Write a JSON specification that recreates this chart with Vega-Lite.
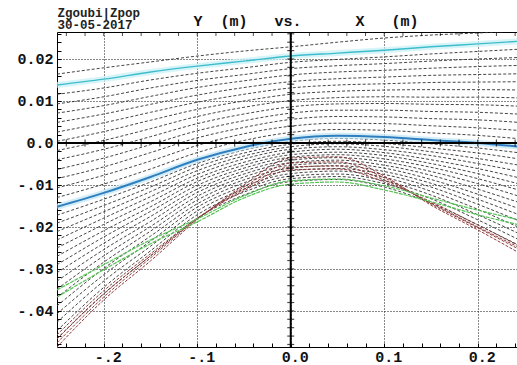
{
"$schema":"https://vega.github.io/schema/vega-lite/v6.json",
"width":460,"height":315,"autosize":"none",
"padding":{"left":57,"top":32,"right":0,"bottom":18},
"background":"white",
"config":{"view":{"stroke":"#000","strokeWidth":1}},
"datasets":{
"traj":[
{"g":"k","k":"a","x":-0.25,"y":0.0164},{"g":"k","k":"a","x":-0.2,"y":0.0179},{"g":"k","k":"a","x":-0.15,"y":0.0193},{"g":"k","k":"a","x":-0.1,"y":0.0207},{"g":"k","k":"a","x":-0.05,"y":0.0219},{"g":"k","k":"a","x":0,"y":0.0229},{"g":"k","k":"a","x":0.05,"y":0.024},{"g":"k","k":"a","x":0.1,"y":0.025},{"g":"k","k":"a","x":0.15,"y":0.0257},{"g":"k","k":"a","x":0.2,"y":0.0262},{"g":"k","k":"a","x":0.25,"y":0.0267},
{"g":"k","k":"u1","x":-0.25,"y":0.0116},{"g":"k","k":"u1","x":-0.2,"y":0.0131},{"g":"k","k":"u1","x":-0.15,"y":0.015},{"g":"k","k":"u1","x":-0.1,"y":0.0166},{"g":"k","k":"u1","x":-0.05,"y":0.0179},{"g":"k","k":"u1","x":0,"y":0.0192},{"g":"k","k":"u1","x":0.05,"y":0.0199},{"g":"k","k":"u1","x":0.1,"y":0.0205},{"g":"k","k":"u1","x":0.15,"y":0.0212},{"g":"k","k":"u1","x":0.2,"y":0.0218},{"g":"k","k":"u1","x":0.25,"y":0.0224},
{"g":"k","k":"u2","x":-0.25,"y":0.0093},{"g":"k","k":"u2","x":-0.2,"y":0.011},{"g":"k","k":"u2","x":-0.15,"y":0.0131},{"g":"k","k":"u2","x":-0.1,"y":0.0149},{"g":"k","k":"u2","x":-0.05,"y":0.0163},{"g":"k","k":"u2","x":0,"y":0.0177},{"g":"k","k":"u2","x":0.05,"y":0.0184},{"g":"k","k":"u2","x":0.1,"y":0.0189},{"g":"k","k":"u2","x":0.15,"y":0.0195},{"g":"k","k":"u2","x":0.2,"y":0.02},{"g":"k","k":"u2","x":0.25,"y":0.0204},
{"g":"k","k":"u3","x":-0.25,"y":0.0071},{"g":"k","k":"u3","x":-0.2,"y":0.0089},{"g":"k","k":"u3","x":-0.15,"y":0.0111},{"g":"k","k":"u3","x":-0.1,"y":0.0132},{"g":"k","k":"u3","x":-0.05,"y":0.0148},{"g":"k","k":"u3","x":0,"y":0.0162},{"g":"k","k":"u3","x":0.05,"y":0.0169},{"g":"k","k":"u3","x":0.1,"y":0.0173},{"g":"k","k":"u3","x":0.15,"y":0.0178},{"g":"k","k":"u3","x":0.2,"y":0.0182},{"g":"k","k":"u3","x":0.25,"y":0.0185},
{"g":"k","k":"u4","x":-0.25,"y":0.0049},{"g":"k","k":"u4","x":-0.2,"y":0.0069},{"g":"k","k":"u4","x":-0.15,"y":0.0092},{"g":"k","k":"u4","x":-0.1,"y":0.0114},{"g":"k","k":"u4","x":-0.05,"y":0.0132},{"g":"k","k":"u4","x":0,"y":0.0146},{"g":"k","k":"u4","x":0.05,"y":0.0153},{"g":"k","k":"u4","x":0.1,"y":0.0157},{"g":"k","k":"u4","x":0.15,"y":0.0161},{"g":"k","k":"u4","x":0.2,"y":0.0163},{"g":"k","k":"u4","x":0.25,"y":0.0165},
{"g":"k","k":"u5","x":-0.25,"y":0.0026},{"g":"k","k":"u5","x":-0.2,"y":0.0048},{"g":"k","k":"u5","x":-0.15,"y":0.0073},{"g":"k","k":"u5","x":-0.1,"y":0.0097},{"g":"k","k":"u5","x":-0.05,"y":0.0116},{"g":"k","k":"u5","x":0,"y":0.0131},{"g":"k","k":"u5","x":0.05,"y":0.0138},{"g":"k","k":"u5","x":0.1,"y":0.0141},{"g":"k","k":"u5","x":0.15,"y":0.0144},{"g":"k","k":"u5","x":0.2,"y":0.0145},{"g":"k","k":"u5","x":0.25,"y":0.0146},
{"g":"k","k":"u6","x":-0.25,"y":0.0004},{"g":"k","k":"u6","x":-0.2,"y":0.0027},{"g":"k","k":"u6","x":-0.15,"y":0.0054},{"g":"k","k":"u6","x":-0.1,"y":0.008},{"g":"k","k":"u6","x":-0.05,"y":0.01},{"g":"k","k":"u6","x":0,"y":0.0116},{"g":"k","k":"u6","x":0.05,"y":0.0123},{"g":"k","k":"u6","x":0.1,"y":0.0126},{"g":"k","k":"u6","x":0.15,"y":0.0127},{"g":"k","k":"u6","x":0.2,"y":0.0127},{"g":"k","k":"u6","x":0.25,"y":0.0126},
{"g":"k","k":"u7","x":-0.25,"y":-0.0018},{"g":"k","k":"u7","x":-0.2,"y":0.0006},{"g":"k","k":"u7","x":-0.15,"y":0.0034},{"g":"k","k":"u7","x":-0.1,"y":0.0063},{"g":"k","k":"u7","x":-0.05,"y":0.0085},{"g":"k","k":"u7","x":0,"y":0.0101},{"g":"k","k":"u7","x":0.05,"y":0.0108},{"g":"k","k":"u7","x":0.1,"y":0.011},{"g":"k","k":"u7","x":0.15,"y":0.0109},{"g":"k","k":"u7","x":0.2,"y":0.0109},{"g":"k","k":"u7","x":0.25,"y":0.0107},
{"g":"k","k":"u8","x":-0.25,"y":-0.004},{"g":"k","k":"u8","x":-0.2,"y":-0.0015},{"g":"k","k":"u8","x":-0.15,"y":0.0015},{"g":"k","k":"u8","x":-0.1,"y":0.0046},{"g":"k","k":"u8","x":-0.05,"y":0.0069},{"g":"k","k":"u8","x":0,"y":0.0086},{"g":"k","k":"u8","x":0.05,"y":0.0093},{"g":"k","k":"u8","x":0.1,"y":0.0094},{"g":"k","k":"u8","x":0.15,"y":0.0092},{"g":"k","k":"u8","x":0.2,"y":0.0091},{"g":"k","k":"u8","x":0.25,"y":0.0087},
{"g":"k","k":"u9","x":-0.25,"y":-0.0063},{"g":"k","k":"u9","x":-0.2,"y":-0.0036},{"g":"k","k":"u9","x":-0.15,"y":-0.0004},{"g":"k","k":"u9","x":-0.1,"y":0.0029},{"g":"k","k":"u9","x":-0.05,"y":0.0053},{"g":"k","k":"u9","x":0,"y":0.0071},{"g":"k","k":"u9","x":0.05,"y":0.0078},{"g":"k","k":"u9","x":0.1,"y":0.0078},{"g":"k","k":"u9","x":0.15,"y":0.0075},{"g":"k","k":"u9","x":0.2,"y":0.0073},{"g":"k","k":"u9","x":0.25,"y":0.0068},
{"g":"k","k":"u10","x":-0.25,"y":-0.0085},{"g":"k","k":"u10","x":-0.2,"y":-0.0057},{"g":"k","k":"u10","x":-0.15,"y":-0.0023},{"g":"k","k":"u10","x":-0.1,"y":0.0012},{"g":"k","k":"u10","x":-0.05,"y":0.0037},{"g":"k","k":"u10","x":0,"y":0.0056},{"g":"k","k":"u10","x":0.05,"y":0.0063},{"g":"k","k":"u10","x":0.1,"y":0.0062},{"g":"k","k":"u10","x":0.15,"y":0.0058},{"g":"k","k":"u10","x":0.2,"y":0.0055},{"g":"k","k":"u10","x":0.25,"y":0.0048},
{"g":"k","k":"u11","x":-0.25,"y":-0.0107},{"g":"k","k":"u11","x":-0.2,"y":-0.0077},{"g":"k","k":"u11","x":-0.15,"y":-0.0043},{"g":"k","k":"u11","x":-0.1,"y":-0.0006},{"g":"k","k":"u11","x":-0.05,"y":0.0022},{"g":"k","k":"u11","x":0,"y":0.004},{"g":"k","k":"u11","x":0.05,"y":0.0047},{"g":"k","k":"u11","x":0.1,"y":0.0046},{"g":"k","k":"u11","x":0.15,"y":0.0041},{"g":"k","k":"u11","x":0.2,"y":0.0036},{"g":"k","k":"u11","x":0.25,"y":0.0029},
{"g":"k","k":"u12","x":-0.25,"y":-0.013},{"g":"k","k":"u12","x":-0.2,"y":-0.0098},{"g":"k","k":"u12","x":-0.15,"y":-0.0062},{"g":"k","k":"u12","x":-0.1,"y":-0.0023},{"g":"k","k":"u12","x":-0.05,"y":0.0006},{"g":"k","k":"u12","x":0,"y":0.0025},{"g":"k","k":"u12","x":0.05,"y":0.0032},{"g":"k","k":"u12","x":0.1,"y":0.003},{"g":"k","k":"u12","x":0.15,"y":0.0024},{"g":"k","k":"u12","x":0.2,"y":0.0018},{"g":"k","k":"u12","x":0.25,"y":0.0009},
{"g":"k","k":"l1","x":-0.25,"y":-0.0172},{"g":"k","k":"l1","x":-0.2,"y":-0.0134},{"g":"k","k":"l1","x":-0.15,"y":-0.0093},{"g":"k","k":"l1","x":-0.1,"y":-0.0049},{"g":"k","k":"l1","x":-0.05,"y":-0.0017},{"g":"k","k":"l1","x":0,"y":0.0004},{"g":"k","k":"l1","x":0.05,"y":0.0011},{"g":"k","k":"l1","x":0.1,"y":0.0007},{"g":"k","k":"l1","x":0.15,"y":-0.0002},{"g":"k","k":"l1","x":0.2,"y":-0.0012},{"g":"k","k":"l1","x":0.25,"y":-0.0025},
{"g":"k","k":"l2","x":-0.25,"y":-0.0191},{"g":"k","k":"l2","x":-0.2,"y":-0.0149},{"g":"k","k":"l2","x":-0.15,"y":-0.0105},{"g":"k","k":"l2","x":-0.1,"y":-0.0057},{"g":"k","k":"l2","x":-0.05,"y":-0.0024},{"g":"k","k":"l2","x":0,"y":-0.0003},{"g":"k","k":"l2","x":0.05,"y":0.0004},{"g":"k","k":"l2","x":0.1,"y":-0.0001},{"g":"k","k":"l2","x":0.15,"y":-0.0012},{"g":"k","k":"l2","x":0.2,"y":-0.0024},{"g":"k","k":"l2","x":0.25,"y":-0.004},
{"g":"k","k":"l3","x":-0.25,"y":-0.0211},{"g":"k","k":"l3","x":-0.2,"y":-0.0164},{"g":"k","k":"l3","x":-0.15,"y":-0.0116},{"g":"k","k":"l3","x":-0.1,"y":-0.0066},{"g":"k","k":"l3","x":-0.05,"y":-0.0031},{"g":"k","k":"l3","x":0,"y":-0.0009},{"g":"k","k":"l3","x":0.05,"y":-0.0002},{"g":"k","k":"l3","x":0.1,"y":-0.0008},{"g":"k","k":"l3","x":0.15,"y":-0.0021},{"g":"k","k":"l3","x":0.2,"y":-0.0037},{"g":"k","k":"l3","x":0.25,"y":-0.0055},
{"g":"k","k":"l4","x":-0.25,"y":-0.0231},{"g":"k","k":"l4","x":-0.2,"y":-0.0179},{"g":"k","k":"l4","x":-0.15,"y":-0.0128},{"g":"k","k":"l4","x":-0.1,"y":-0.0075},{"g":"k","k":"l4","x":-0.05,"y":-0.0038},{"g":"k","k":"l4","x":0,"y":-0.0015},{"g":"k","k":"l4","x":0.05,"y":-0.0009},{"g":"k","k":"l4","x":0.1,"y":-0.0016},{"g":"k","k":"l4","x":0.15,"y":-0.003},{"g":"k","k":"l4","x":0.2,"y":-0.0049},{"g":"k","k":"l4","x":0.25,"y":-0.007},
{"g":"k","k":"l5","x":-0.25,"y":-0.025},{"g":"k","k":"l5","x":-0.2,"y":-0.0194},{"g":"k","k":"l5","x":-0.15,"y":-0.014},{"g":"k","k":"l5","x":-0.1,"y":-0.0084},{"g":"k","k":"l5","x":-0.05,"y":-0.0046},{"g":"k","k":"l5","x":0,"y":-0.0022},{"g":"k","k":"l5","x":0.05,"y":-0.0015},{"g":"k","k":"l5","x":0.1,"y":-0.0023},{"g":"k","k":"l5","x":0.15,"y":-0.004},{"g":"k","k":"l5","x":0.2,"y":-0.0061},{"g":"k","k":"l5","x":0.25,"y":-0.0086},
{"g":"k","k":"l6","x":-0.25,"y":-0.027},{"g":"k","k":"l6","x":-0.2,"y":-0.0209},{"g":"k","k":"l6","x":-0.15,"y":-0.0152},{"g":"k","k":"l6","x":-0.1,"y":-0.0092},{"g":"k","k":"l6","x":-0.05,"y":-0.0053},{"g":"k","k":"l6","x":0,"y":-0.0028},{"g":"k","k":"l6","x":0.05,"y":-0.0022},{"g":"k","k":"l6","x":0.1,"y":-0.003},{"g":"k","k":"l6","x":0.15,"y":-0.0049},{"g":"k","k":"l6","x":0.2,"y":-0.0073},{"g":"k","k":"l6","x":0.25,"y":-0.0101},
{"g":"k","k":"l7","x":-0.25,"y":-0.029},{"g":"k","k":"l7","x":-0.2,"y":-0.0224},{"g":"k","k":"l7","x":-0.15,"y":-0.0163},{"g":"k","k":"l7","x":-0.1,"y":-0.0101},{"g":"k","k":"l7","x":-0.05,"y":-0.006},{"g":"k","k":"l7","x":0,"y":-0.0034},{"g":"k","k":"l7","x":0.05,"y":-0.0028},{"g":"k","k":"l7","x":0.1,"y":-0.0038},{"g":"k","k":"l7","x":0.15,"y":-0.0058},{"g":"k","k":"l7","x":0.2,"y":-0.0085},{"g":"k","k":"l7","x":0.25,"y":-0.0116},
{"g":"k","k":"l8","x":-0.25,"y":-0.0309},{"g":"k","k":"l8","x":-0.2,"y":-0.0239},{"g":"k","k":"l8","x":-0.15,"y":-0.0175},{"g":"k","k":"l8","x":-0.1,"y":-0.011},{"g":"k","k":"l8","x":-0.05,"y":-0.0067},{"g":"k","k":"l8","x":0,"y":-0.0041},{"g":"k","k":"l8","x":0.05,"y":-0.0035},{"g":"k","k":"l8","x":0.1,"y":-0.0045},{"g":"k","k":"l8","x":0.15,"y":-0.0068},{"g":"k","k":"l8","x":0.2,"y":-0.0097},{"g":"k","k":"l8","x":0.25,"y":-0.0131},
{"g":"k","k":"l9","x":-0.25,"y":-0.0329},{"g":"k","k":"l9","x":-0.2,"y":-0.0254},{"g":"k","k":"l9","x":-0.15,"y":-0.0187},{"g":"k","k":"l9","x":-0.1,"y":-0.0118},{"g":"k","k":"l9","x":-0.05,"y":-0.0074},{"g":"k","k":"l9","x":0,"y":-0.0047},{"g":"k","k":"l9","x":0.05,"y":-0.0041},{"g":"k","k":"l9","x":0.1,"y":-0.0053},{"g":"k","k":"l9","x":0.15,"y":-0.0077},{"g":"k","k":"l9","x":0.2,"y":-0.011},{"g":"k","k":"l9","x":0.25,"y":-0.0146},
{"g":"k","k":"l10","x":-0.25,"y":-0.0348},{"g":"k","k":"l10","x":-0.2,"y":-0.0269},{"g":"k","k":"l10","x":-0.15,"y":-0.0199},{"g":"k","k":"l10","x":-0.1,"y":-0.0127},{"g":"k","k":"l10","x":-0.05,"y":-0.0081},{"g":"k","k":"l10","x":0,"y":-0.0053},{"g":"k","k":"l10","x":0.05,"y":-0.0048},{"g":"k","k":"l10","x":0.1,"y":-0.006},{"g":"k","k":"l10","x":0.15,"y":-0.0087},{"g":"k","k":"l10","x":0.2,"y":-0.0122},{"g":"k","k":"l10","x":0.25,"y":-0.0161},
{"g":"k","k":"l11","x":-0.25,"y":-0.0368},{"g":"k","k":"l11","x":-0.2,"y":-0.0284},{"g":"k","k":"l11","x":-0.15,"y":-0.021},{"g":"k","k":"l11","x":-0.1,"y":-0.0136},{"g":"k","k":"l11","x":-0.05,"y":-0.0088},{"g":"k","k":"l11","x":0,"y":-0.006},{"g":"k","k":"l11","x":0.05,"y":-0.0054},{"g":"k","k":"l11","x":0.1,"y":-0.0068},{"g":"k","k":"l11","x":0.15,"y":-0.0096},{"g":"k","k":"l11","x":0.2,"y":-0.0134},{"g":"k","k":"l11","x":0.25,"y":-0.0176},
{"g":"k","k":"l12","x":-0.25,"y":-0.0388},{"g":"k","k":"l12","x":-0.2,"y":-0.0299},{"g":"k","k":"l12","x":-0.15,"y":-0.0222},{"g":"k","k":"l12","x":-0.1,"y":-0.0145},{"g":"k","k":"l12","x":-0.05,"y":-0.0095},{"g":"k","k":"l12","x":0,"y":-0.0066},{"g":"k","k":"l12","x":0.05,"y":-0.0061},{"g":"k","k":"l12","x":0.1,"y":-0.0075},{"g":"k","k":"l12","x":0.15,"y":-0.0105},{"g":"k","k":"l12","x":0.2,"y":-0.0146},{"g":"k","k":"l12","x":0.25,"y":-0.0191},
{"g":"k","k":"l13","x":-0.25,"y":-0.0407},{"g":"k","k":"l13","x":-0.2,"y":-0.0314},{"g":"k","k":"l13","x":-0.15,"y":-0.0234},{"g":"k","k":"l13","x":-0.1,"y":-0.0153},{"g":"k","k":"l13","x":-0.05,"y":-0.0103},{"g":"k","k":"l13","x":0,"y":-0.0073},{"g":"k","k":"l13","x":0.05,"y":-0.0067},{"g":"k","k":"l13","x":0.1,"y":-0.0082},{"g":"k","k":"l13","x":0.15,"y":-0.0115},{"g":"k","k":"l13","x":0.2,"y":-0.0158},{"g":"k","k":"l13","x":0.25,"y":-0.0207},
{"g":"k","k":"l14","x":-0.25,"y":-0.0427},{"g":"k","k":"l14","x":-0.2,"y":-0.0329},{"g":"k","k":"l14","x":-0.15,"y":-0.0246},{"g":"k","k":"l14","x":-0.1,"y":-0.0162},{"g":"k","k":"l14","x":-0.05,"y":-0.011},{"g":"k","k":"l14","x":0,"y":-0.0079},{"g":"k","k":"l14","x":0.05,"y":-0.0074},{"g":"k","k":"l14","x":0.1,"y":-0.009},{"g":"k","k":"l14","x":0.15,"y":-0.0124},{"g":"k","k":"l14","x":0.2,"y":-0.0171},{"g":"k","k":"l14","x":0.25,"y":-0.0222},
{"g":"k","k":"l15","x":-0.25,"y":-0.0447},{"g":"k","k":"l15","x":-0.2,"y":-0.0344},{"g":"k","k":"l15","x":-0.15,"y":-0.0257},{"g":"k","k":"l15","x":-0.1,"y":-0.0171},{"g":"k","k":"l15","x":-0.05,"y":-0.0117},{"g":"k","k":"l15","x":0,"y":-0.0085},{"g":"k","k":"l15","x":0.05,"y":-0.008},{"g":"k","k":"l15","x":0.1,"y":-0.0097},{"g":"k","k":"l15","x":0.15,"y":-0.0133},{"g":"k","k":"l15","x":0.2,"y":-0.0183},{"g":"k","k":"l15","x":0.25,"y":-0.0237},
{"g":"k","k":"l16","x":-0.25,"y":-0.0466},{"g":"k","k":"l16","x":-0.2,"y":-0.0359},{"g":"k","k":"l16","x":-0.15,"y":-0.0269},{"g":"k","k":"l16","x":-0.1,"y":-0.0179},{"g":"k","k":"l16","x":-0.05,"y":-0.0124},{"g":"k","k":"l16","x":0,"y":-0.0092},{"g":"k","k":"l16","x":0.05,"y":-0.0087},{"g":"k","k":"l16","x":0.1,"y":-0.0105},{"g":"k","k":"l16","x":0.15,"y":-0.0143},{"g":"k","k":"l16","x":0.2,"y":-0.0195},{"g":"k","k":"l16","x":0.25,"y":-0.0252},
{"g":"c","k":"c","x":-0.25,"y":0.0138},{"g":"c","k":"c","x":-0.2,"y":0.0152},{"g":"c","k":"c","x":-0.15,"y":0.0169},{"g":"c","k":"c","x":-0.1,"y":0.0183},{"g":"c","k":"c","x":-0.05,"y":0.0195},{"g":"c","k":"c","x":0,"y":0.0207},{"g":"c","k":"c","x":0.05,"y":0.0214},{"g":"c","k":"c","x":0.1,"y":0.0221},{"g":"c","k":"c","x":0.15,"y":0.0229},{"g":"c","k":"c","x":0.2,"y":0.0236},{"g":"c","k":"c","x":0.25,"y":0.0243},
{"g":"b","k":"b","x":-0.25,"y":-0.0152},{"g":"b","k":"b","x":-0.2,"y":-0.0119},{"g":"b","k":"b","x":-0.15,"y":-0.0081},{"g":"b","k":"b","x":-0.1,"y":-0.004},{"g":"b","k":"b","x":-0.05,"y":-0.001},{"g":"b","k":"b","x":0,"y":0.001},{"g":"b","k":"b","x":0.05,"y":0.0017},{"g":"b","k":"b","x":0.1,"y":0.0014},{"g":"b","k":"b","x":0.15,"y":0.0007},{"g":"b","k":"b","x":0.2,"y":0},{"g":"b","k":"b","x":0.25,"y":-0.001},
{"g":"r","k":"r1","x":-0.25,"y":-0.0486},{"g":"r","k":"r1","x":-0.2,"y":-0.0374},{"g":"r","k":"r1","x":-0.15,"y":-0.0281},{"g":"r","k":"r1","x":-0.1,"y":-0.0183},{"g":"r","k":"r1","x":-0.05,"y":-0.01},{"g":"r","k":"r1","x":0,"y":-0.0036},{"g":"r","k":"r1","x":0.05,"y":-0.0033},{"g":"r","k":"r1","x":0.1,"y":-0.0079},{"g":"r","k":"r1","x":0.15,"y":-0.0148},{"g":"r","k":"r1","x":0.2,"y":-0.0207},{"g":"r","k":"r1","x":0.25,"y":-0.0269},
{"g":"r","k":"r2","x":-0.25,"y":-0.0476},{"g":"r","k":"r2","x":-0.2,"y":-0.0367},{"g":"r","k":"r2","x":-0.15,"y":-0.0274},{"g":"r","k":"r2","x":-0.1,"y":-0.0181},{"g":"r","k":"r2","x":-0.05,"y":-0.0105},{"g":"r","k":"r2","x":0,"y":-0.0048},{"g":"r","k":"r2","x":0.05,"y":-0.0045},{"g":"r","k":"r2","x":0.1,"y":-0.0083},{"g":"r","k":"r2","x":0.15,"y":-0.0145},{"g":"r","k":"r2","x":0.2,"y":-0.0202},{"g":"r","k":"r2","x":0.25,"y":-0.026},
{"g":"r","k":"r3","x":-0.25,"y":-0.0467},{"g":"r","k":"r3","x":-0.2,"y":-0.036},{"g":"r","k":"r3","x":-0.15,"y":-0.0269},{"g":"r","k":"r3","x":-0.1,"y":-0.0181},{"g":"r","k":"r3","x":-0.05,"y":-0.011},{"g":"r","k":"r3","x":0,"y":-0.0057},{"g":"r","k":"r3","x":0.05,"y":-0.0055},{"g":"r","k":"r3","x":0.1,"y":-0.0088},{"g":"r","k":"r3","x":0.15,"y":-0.0143},{"g":"r","k":"r3","x":0.2,"y":-0.02},{"g":"r","k":"r3","x":0.25,"y":-0.0255},
{"g":"r","k":"r4","x":-0.25,"y":-0.0457},{"g":"r","k":"r4","x":-0.2,"y":-0.0352},{"g":"r","k":"r4","x":-0.15,"y":-0.0264},{"g":"r","k":"r4","x":-0.1,"y":-0.0179},{"g":"r","k":"r4","x":-0.05,"y":-0.0114},{"g":"r","k":"r4","x":0,"y":-0.0064},{"g":"r","k":"r4","x":0.05,"y":-0.0062},{"g":"r","k":"r4","x":0.1,"y":-0.0093},{"g":"r","k":"r4","x":0.15,"y":-0.014},{"g":"r","k":"r4","x":0.2,"y":-0.0195},{"g":"r","k":"r4","x":0.25,"y":-0.025},
{"g":"n","k":"g1","x":-0.25,"y":-0.0367},{"g":"n","k":"g1","x":-0.2,"y":-0.0302},{"g":"n","k":"g1","x":-0.15,"y":-0.024},{"g":"n","k":"g1","x":-0.1,"y":-0.0188},{"g":"n","k":"g1","x":-0.05,"y":-0.0131},{"g":"n","k":"g1","x":0,"y":-0.0098},{"g":"n","k":"g1","x":0.05,"y":-0.0093},{"g":"n","k":"g1","x":0.1,"y":-0.0112},{"g":"n","k":"g1","x":0.15,"y":-0.014},{"g":"n","k":"g1","x":0.2,"y":-0.0171},{"g":"n","k":"g1","x":0.25,"y":-0.0198},
{"g":"n","k":"g2","x":-0.25,"y":-0.035},{"g":"n","k":"g2","x":-0.2,"y":-0.029},{"g":"n","k":"g2","x":-0.15,"y":-0.0231},{"g":"n","k":"g2","x":-0.1,"y":-0.0181},{"g":"n","k":"g2","x":-0.05,"y":-0.0126},{"g":"n","k":"g2","x":0,"y":-0.009},{"g":"n","k":"g2","x":0.05,"y":-0.0086},{"g":"n","k":"g2","x":0.1,"y":-0.0102},{"g":"n","k":"g2","x":0.15,"y":-0.0131},{"g":"n","k":"g2","x":0.2,"y":-0.016},{"g":"n","k":"g2","x":0.25,"y":-0.0186}
],
"xt":[{"x":-0.24,"y":0},{"x":-0.22,"y":0},{"x":-0.2,"y":0},{"x":-0.18,"y":0},{"x":-0.16,"y":0},{"x":-0.14,"y":0},{"x":-0.12,"y":0},{"x":-0.1,"y":0},{"x":-0.08,"y":0},{"x":-0.06,"y":0},{"x":-0.04,"y":0},{"x":-0.02,"y":0},{"x":0.02,"y":0},{"x":0.04,"y":0},{"x":0.06,"y":0},{"x":0.08,"y":0},{"x":0.1,"y":0},{"x":0.12,"y":0},{"x":0.14,"y":0},{"x":0.16,"y":0},{"x":0.18,"y":0},{"x":0.2,"y":0},{"x":0.22,"y":0},{"x":0.24,"y":0}],
"tt":[{"x":-0.24,"y":0.02643},{"x":-0.22,"y":0.02643},{"x":-0.2,"y":0.02643},{"x":-0.18,"y":0.02643},{"x":-0.16,"y":0.02643},{"x":-0.14,"y":0.02643},{"x":-0.12,"y":0.02643},{"x":-0.1,"y":0.02643},{"x":-0.08,"y":0.02643},{"x":-0.06,"y":0.02643},{"x":-0.04,"y":0.02643},{"x":-0.02,"y":0.02643},{"x":0,"y":0.02643},{"x":0.02,"y":0.02643},{"x":0.04,"y":0.02643},{"x":0.06,"y":0.02643},{"x":0.08,"y":0.02643},{"x":0.1,"y":0.02643},{"x":0.12,"y":0.02643},{"x":0.14,"y":0.02643},{"x":0.16,"y":0.02643},{"x":0.18,"y":0.02643},{"x":0.2,"y":0.02643},{"x":0.22,"y":0.02643},{"x":0.24,"y":0.02643}],
"yt":[{"x":0,"y":-0.048},{"x":0,"y":-0.046},{"x":0,"y":-0.044},{"x":0,"y":-0.042},{"x":0,"y":-0.04},{"x":0,"y":-0.038},{"x":0,"y":-0.036},{"x":0,"y":-0.034},{"x":0,"y":-0.032},{"x":0,"y":-0.03},{"x":0,"y":-0.028},{"x":0,"y":-0.026},{"x":0,"y":-0.024},{"x":0,"y":-0.022},{"x":0,"y":-0.02},{"x":0,"y":-0.018},{"x":0,"y":-0.016},{"x":0,"y":-0.014},{"x":0,"y":-0.012},{"x":0,"y":-0.01},{"x":0,"y":-0.008},{"x":0,"y":-0.006},{"x":0,"y":-0.004},{"x":0,"y":-0.002},{"x":0,"y":0.002},{"x":0,"y":0.004},{"x":0,"y":0.006},{"x":0,"y":0.008},{"x":0,"y":0.01},{"x":0,"y":0.012},{"x":0,"y":0.014},{"x":0,"y":0.016},{"x":0,"y":0.018},{"x":0,"y":0.02},{"x":0,"y":0.022},{"x":0,"y":0.024},{"x":0,"y":0.026}],
"vr":[{"x":0,"y":-0.0486,"y2":0.02643}],
"hr":[{"x":-0.25,"x2":0.242,"y":0}]
},
"encoding":{
 "x":{"field":"x","type":"quantitative","scale":{"domain":[-0.25,0.242],"nice":false,"zero":false},
  "axis":{"values":[-0.24,-0.22,-0.2,-0.18,-0.16,-0.14,-0.12,-0.1,-0.08,-0.06,-0.04,-0.02,0,0.02,0.04,0.06,0.08,0.1,0.12,0.14,0.16,0.18,0.2,0.22,0.24],
   "domain":false,"grid":true,"gridColor":"#111","gridDash":[1,2],"gridWidth":1,
   "gridOpacity":{"condition":{"test":"abs(datum.value*10-round(datum.value*10))>0.001","value":0},"value":1},
   "tickSize":-4,"tickColor":"#000","tickWidth":1,
   "labelExpr":"abs(datum.value*10-round(datum.value*10))>0.001 ? '' : (datum.value<0 ? '-.'+round(-datum.value*10) : '0.'+round(datum.value*10))",
   "labelFont":"Liberation Mono","labelFontSize":15,"labelFontWeight":"bold","labelColor":"#111","labelPadding":6,"labelOffset":4,
   "labelOverlap":false,"labelBound":false,"labelFlush":false,
   "title":"Y\u00a0\u00a0(m)\u00a0\u00a0\u00a0vs.\u00a0\u00a0\u00a0\u00a0\u00a0\u00a0X\u00a0\u00a0\u00a0(m)","titleAnchor":"start","titleAlign":"left","titleBaseline":"alphabetic","titleX":136,"titleY":-322,
   "titleFont":"Liberation Mono","titleFontSize":15,"titleFontWeight":"bold","titleColor":"#111"}},
 "y":{"field":"y","type":"quantitative","scale":{"domain":[-0.0486,0.02643],"nice":false,"zero":false},
  "axis":{"values":[-0.048,-0.046,-0.044,-0.042,-0.04,-0.038,-0.036,-0.034,-0.032,-0.03,-0.028,-0.026,-0.024,-0.022,-0.02,-0.018,-0.016,-0.014,-0.012,-0.01,-0.008,-0.006,-0.004,-0.002,0,0.002,0.004,0.006,0.008,0.01,0.012,0.014,0.016,0.018,0.02,0.022,0.024,0.026],
   "domain":false,"grid":true,"gridColor":"#111","gridDash":[1,2],"gridWidth":1,
   "gridOpacity":{"condition":{"test":"abs(datum.value*100-round(datum.value*100))>0.001","value":0},"value":1},
   "tickSize":-4,"tickColor":"#000","tickWidth":1,
   "labelExpr":"abs(datum.value*100-round(datum.value*100))>0.001 ? '' : (abs(datum.value)<0.0001 ? '0.0' : (datum.value<0 ? '-.0'+round(-datum.value*100) : '0.0'+round(datum.value*100)))",
   "labelFont":"Liberation Mono","labelFontSize":15,"labelFontWeight":"bold","labelColor":"#111","labelPadding":8,
   "labelOverlap":false,"labelBound":false,"labelFlush":false,
   "title":["Zgoubi|Zpop","30-05-2017"],"titleAngle":0,"titleAnchor":"start","titleAlign":"left","titleBaseline":"alphabetic","titleX":0,"titleY":-16,
   "titleFont":"Liberation Mono","titleFontSize":12.5,"titleFontWeight":"bold","titleLineHeight":12.5,"titleColor":"#222"}}
},
"layer":[
{"data":{"name":"traj"},"transform":[{"filter":"datum.g=='k'"}],
 "mark":{"type":"line","clip":true,"interpolate":"monotone","stroke":"#303030","strokeWidth":0.9,"strokeDash":[3,2]},
 "encoding":{"detail":{"field":"k"}}},
{"data":{"name":"traj"},"transform":[{"filter":"datum.g=='c'"}],
 "mark":{"type":"line","clip":true,"interpolate":"monotone","stroke":"#c9f1f7","strokeWidth":6,"opacity":0.75}},
{"data":{"name":"traj"},"transform":[{"filter":"datum.g=='b'"}],
 "mark":{"type":"line","clip":true,"interpolate":"monotone","stroke":"#c3e6f5","strokeWidth":6,"opacity":0.75}},
{"data":{"name":"traj"},"transform":[{"filter":"datum.g=='c'"}],
 "mark":{"type":"line","clip":true,"interpolate":"monotone","stroke":"#3fbccb","strokeWidth":1.4}},
{"data":{"name":"traj"},"transform":[{"filter":"datum.g=='b'"}],
 "mark":{"type":"line","clip":true,"interpolate":"monotone","stroke":"#2f7fbf","strokeWidth":2}},
{"data":{"name":"traj"},"transform":[{"filter":"datum.g=='r'"}],
 "mark":{"type":"line","clip":true,"interpolate":"monotone","stroke":"#8e3a3a","strokeWidth":1,"strokeDash":[3,1.5]},
 "encoding":{"detail":{"field":"k"}}},
{"data":{"name":"traj"},"transform":[{"filter":"datum.g=='n'"}],
 "mark":{"type":"line","clip":true,"interpolate":"monotone","stroke":"#55c455","strokeWidth":1.2,"strokeDash":[4,1]},
 "encoding":{"detail":{"field":"k"}}},
{"data":{"name":"vr"},"mark":{"type":"rule","color":"#000","strokeWidth":2},"encoding":{"y2":{"field":"y2"}}},
{"data":{"name":"hr"},"mark":{"type":"rule","color":"#000","strokeWidth":2},"encoding":{"x2":{"field":"x2"}}},
{"data":{"name":"xt"},"mark":{"type":"tick","orient":"vertical","size":7,"thickness":1.2,"color":"#000"}},
{"data":{"name":"yt"},"mark":{"type":"tick","orient":"horizontal","size":7,"thickness":1.2,"color":"#000"}},
{"data":{"name":"tt"},"mark":{"type":"tick","orient":"vertical","size":8,"thickness":1,"color":"#000","clip":true}}
]
}
